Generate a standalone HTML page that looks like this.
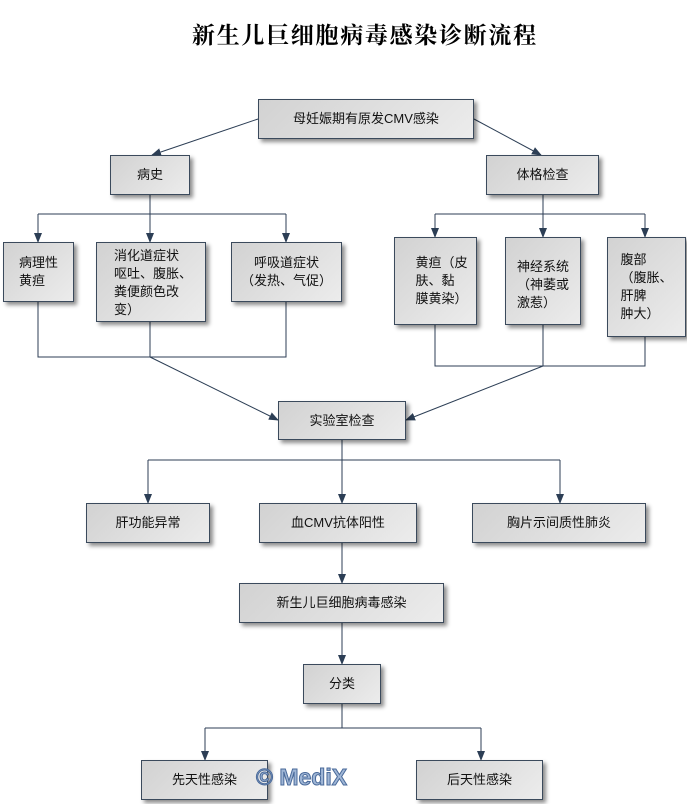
<!DOCTYPE html>
<html><head><meta charset="utf-8"><style>
body{margin:0;width:687px;height:804px;background:#fff;position:relative;overflow:hidden;font-family:"Liberation Sans","Noto Sans CJK SC",sans-serif;}
.b{position:absolute;box-sizing:border-box;border:1px solid #3b4a5c;background:linear-gradient(135deg,#d2d2d2,#ececec);box-shadow:3px 3px 4px rgba(0,0,0,.45);font-size:13px;color:#111;display:flex;align-items:center;justify-content:center;text-align:left;line-height:18px;}
.t{position:absolute;left:192px;top:17px;font-size:23px;font-weight:bold;font-family:"Liberation Serif","Noto Serif CJK SC",serif;letter-spacing:1.7px;white-space:nowrap}
svg{position:absolute;left:0;top:0}
</style></head><body>
<div class="t">新生儿巨细胞病毒感染诊断流程</div>
<svg width="687" height="804"><defs><marker id="a" markerWidth="10" markerHeight="10" refX="9" refY="5" orient="auto" markerUnits="userSpaceOnUse"><path d="M0,1 L10,5 L0,9 z" fill="#2c3e55"/></marker></defs>
<g stroke="#2c3e55" stroke-width="1" fill="none">
<line x1="258" y1="119" x2="152" y2="155" marker-end="url(#a)"/>
<line x1="474" y1="119" x2="541" y2="155" marker-end="url(#a)"/>
<path d="M150 195V242M38 214H286M38 214V242M286 214V242"/>
<line x1="150" y1="214" x2="150" y2="242" marker-end="url(#a)"/>
<line x1="38" y1="214" x2="38" y2="242" marker-end="url(#a)"/>
<line x1="286" y1="214" x2="286" y2="242" marker-end="url(#a)"/>
<path d="M543 195V214M435 214H645"/>
<line x1="543" y1="214" x2="543" y2="237" marker-end="url(#a)"/>
<line x1="435" y1="214" x2="435" y2="237" marker-end="url(#a)"/>
<line x1="645" y1="214" x2="645" y2="237" marker-end="url(#a)"/>
<path d="M38 302V357H286V302M150 322V357"/>
<line x1="150" y1="357" x2="278" y2="420" marker-end="url(#a)"/>
<path d="M435 325V366H645V337M543 325V366"/>
<line x1="543" y1="366" x2="406" y2="420" marker-end="url(#a)"/>
<path d="M342 440V460M148 460H560"/>
<line x1="148" y1="460" x2="148" y2="503" marker-end="url(#a)"/>
<line x1="342" y1="460" x2="342" y2="503" marker-end="url(#a)"/>
<line x1="560" y1="460" x2="560" y2="503" marker-end="url(#a)"/>
<line x1="342" y1="543" x2="342" y2="583" marker-end="url(#a)"/>
<line x1="342" y1="623" x2="342" y2="664" marker-end="url(#a)"/>
<path d="M342 704V728M205 728H481"/>
<line x1="205" y1="728" x2="205" y2="760" marker-end="url(#a)"/>
<line x1="481" y1="728" x2="481" y2="760" marker-end="url(#a)"/>
</g></svg>
<div class="b" style="left:258px;top:99px;width:216px;height:40px">母妊娠期有原发CMV感染</div>
<div class="b" style="left:110px;top:155px;width:80px;height:40px">病史</div>
<div class="b" style="left:486px;top:155px;width:113px;height:40px">体格检查</div>
<div class="b" style="left:3px;top:242px;width:71px;height:60px">病理性<br>黄疸</div>
<div class="b" style="left:96px;top:242px;width:110px;height:80px;align-items:flex-start;justify-content:flex-start;padding:4px 0 0 17px">消化道症状<br>呕吐、腹胀、<br>粪便颜色改<br>变）</div>
<div class="b" style="left:231px;top:242px;width:111px;height:60px;text-align:center">呼吸道症状<br>（发热、气促）</div>
<div class="b" style="left:394px;top:237px;width:83px;height:88px;padding-left:12px">黄疸（皮<br>肤、黏<br>膜黄染）</div>
<div class="b" style="left:505px;top:237px;width:76px;height:88px;align-items:flex-start;padding-top:20px">神经系统<br>（神萎或<br>激惹）</div>
<div class="b" style="left:607px;top:237px;width:79px;height:100px">腹部<br>（腹胀、<br>肝脾<br>肿大）</div>
<div class="b" style="left:278px;top:401px;width:128px;height:39px">实验室检查</div>
<div class="b" style="left:86px;top:503px;width:124px;height:40px">肝功能异常</div>
<div class="b" style="left:259px;top:503px;width:158px;height:40px">血CMV抗体阳性</div>
<div class="b" style="left:472px;top:503px;width:174px;height:40px">胸片示间质性肺炎</div>
<div class="b" style="left:239px;top:583px;width:205px;height:40px">新生儿巨细胞病毒感染</div>
<div class="b" style="left:303px;top:664px;width:78px;height:40px">分类</div>
<div class="b" style="left:141px;top:760px;width:127px;height:40px">先天性感染</div>
<div class="b" style="left:416px;top:760px;width:127px;height:40px">后天性感染</div>
<div style="position:absolute;left:256px;top:764px;font-size:23px;font-weight:bold;color:#9fb6d6;-webkit-text-stroke:1px #4a6a9a;font-family:'Liberation Sans',sans-serif">© MediX</div>
</body></html>
